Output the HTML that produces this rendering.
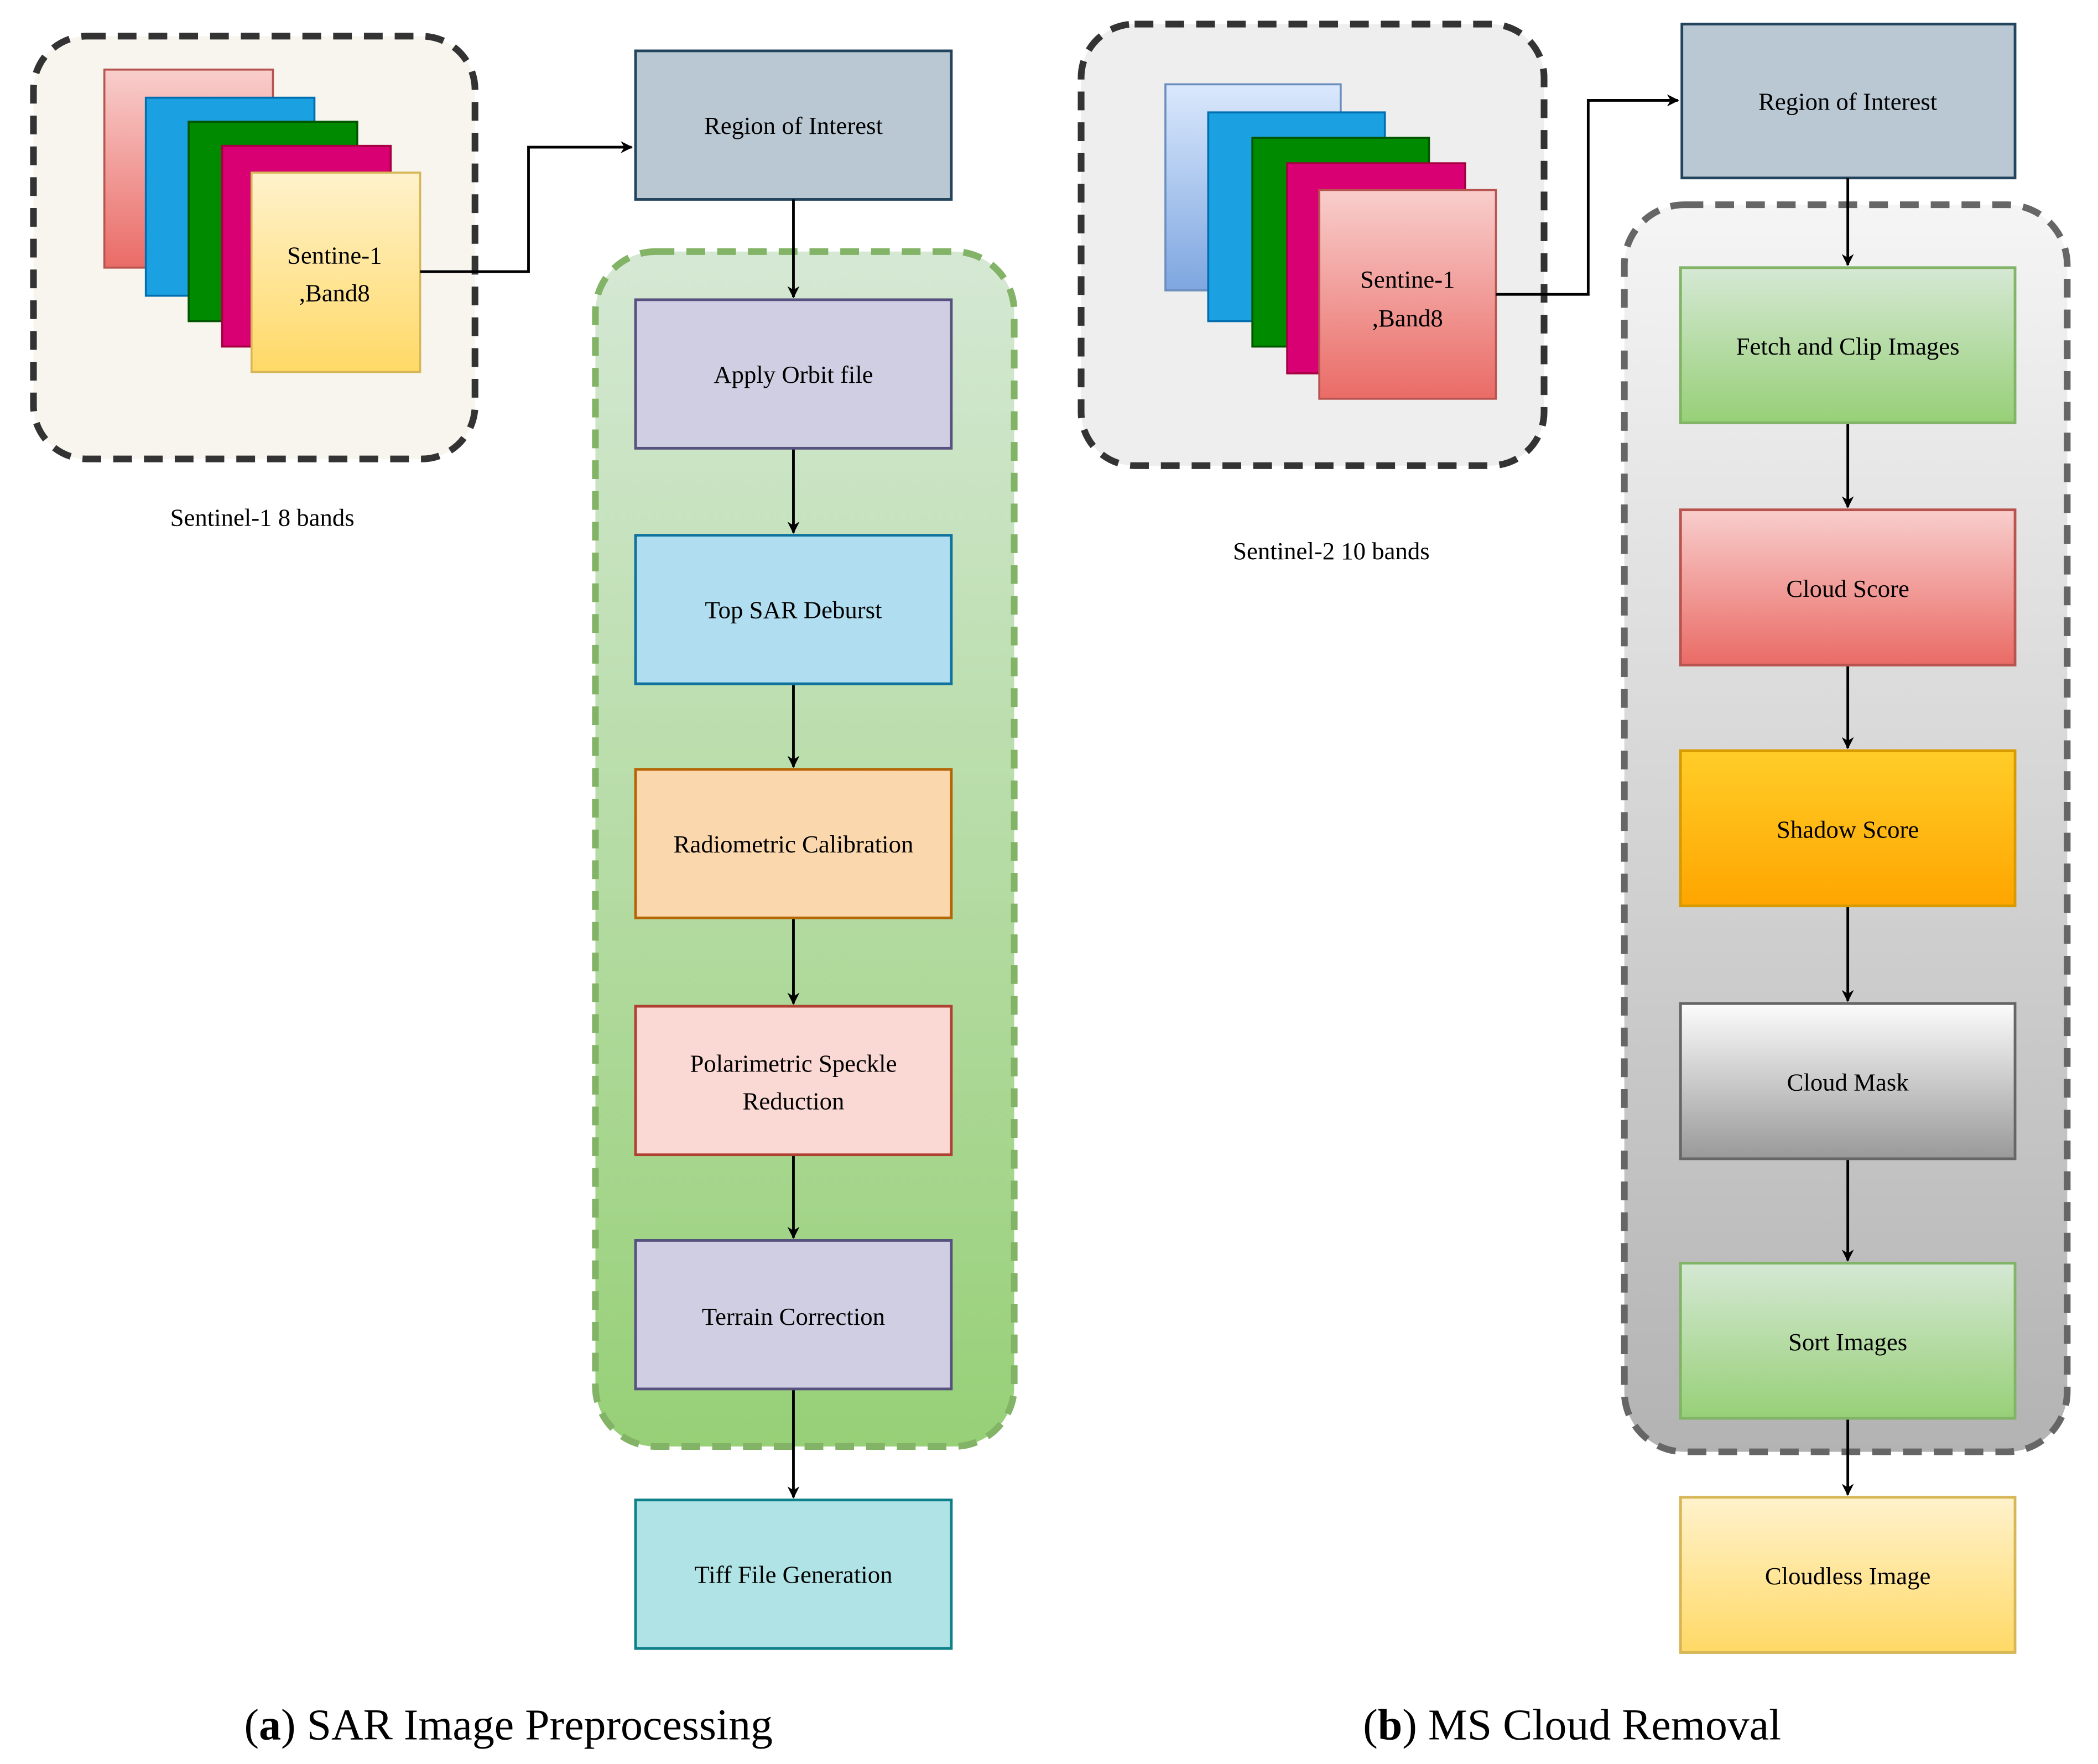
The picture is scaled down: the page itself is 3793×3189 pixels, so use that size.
<!DOCTYPE html>
<html><head><meta charset="utf-8">
<style>html,body{margin:0;padding:0;background:#fff}svg{display:block}</style>
</head><body>
<svg width="3793" height="3189" viewBox="0 0 1568 1318.3" xmlns="http://www.w3.org/2000/svg" font-family="'Liberation Serif', serif">
<defs>
<linearGradient id="gGreen" x1="0" y1="0" x2="0" y2="1"><stop offset="0" stop-color="#d5e8d4"/><stop offset="1" stop-color="#97d077"/></linearGradient>
<linearGradient id="gGray" x1="0" y1="0" x2="0" y2="1"><stop offset="0" stop-color="#f5f5f5"/><stop offset="1" stop-color="#b3b3b3"/></linearGradient>
<linearGradient id="gRed" x1="0" y1="0" x2="0" y2="1"><stop offset="0" stop-color="#f8cecc"/><stop offset="1" stop-color="#ea6b66"/></linearGradient>
<linearGradient id="gYel" x1="0" y1="0" x2="0" y2="1"><stop offset="0" stop-color="#fff2cc"/><stop offset="1" stop-color="#ffd966"/></linearGradient>
<linearGradient id="gOr" x1="0" y1="0" x2="0" y2="1"><stop offset="0" stop-color="#ffcd28"/><stop offset="1" stop-color="#ffa500"/></linearGradient>
<linearGradient id="gMask" x1="0" y1="0" x2="0" y2="1"><stop offset="0" stop-color="#fcfcfc"/><stop offset="1" stop-color="#999999"/></linearGradient>
<linearGradient id="gBlue" x1="0" y1="0" x2="0" y2="1"><stop offset="0" stop-color="#dae8fc"/><stop offset="1" stop-color="#7ea6e0"/></linearGradient>
<marker id="ar" viewBox="0 0 10 10" refX="9" refY="5" markerWidth="9" markerHeight="9" orient="auto" markerUnits="userSpaceOnUse"><path d="M0,0 L10,5 L0,10 L3,5 z" fill="#000"/></marker>
</defs>
<g font-size="18.5" text-anchor="middle" fill="#000">
<rect x="25" y="27" width="330" height="316" rx="40" fill="#f7f5ee" stroke="#333" stroke-width="5" stroke-dasharray="14,9"/>
<rect x="78" y="52" width="126" height="148" fill="url(#gRed)" stroke="#b85450" stroke-width="1.5"/>
<rect x="109" y="73" width="126" height="148" fill="#1ba1e2" stroke="#006eaf" stroke-width="1.5"/>
<rect x="141" y="91" width="126" height="149" fill="#008a00" stroke="#005700" stroke-width="1.5"/>
<rect x="166" y="109" width="126" height="150" fill="#d80073" stroke="#a50040" stroke-width="1.5"/>
<rect x="188" y="129" width="126" height="149" fill="url(#gYel)" stroke="#d6b656" stroke-width="1.5"/>
<text x="250" y="197">Sentine-1</text><text x="250" y="225">,Band8</text>
<text x="196" y="393">Sentinel-1 8 bands</text>
<polyline points="314,203 395,203 395,110 472,110" fill="none" stroke="#000" stroke-width="2" marker-end="url(#ar)"/>
<rect x="475" y="38" width="236" height="111" fill="#bac8d3" stroke="#23445d" stroke-width="2"/>
<text x="593" y="100">Region of Interest</text>
<rect x="445" y="188" width="313" height="893" rx="45" fill="url(#gGreen)" stroke="#82b366" stroke-width="5" stroke-dasharray="14,9"/>
<g stroke="#000" stroke-width="2" marker-end="url(#ar)">
<line x1="593" y1="149" x2="593" y2="222"/><line x1="593" y1="335" x2="593" y2="398"/>
<line x1="593" y1="511" x2="593" y2="573"/><line x1="593" y1="686" x2="593" y2="750"/>
<line x1="593" y1="863" x2="593" y2="925"/><line x1="593" y1="1038" x2="593" y2="1119"/>
</g>
<rect x="475" y="224" width="236" height="111" fill="#d0cee2" stroke="#56517e" stroke-width="2"/><text x="593" y="286">Apply Orbit file</text>
<rect x="475" y="400" width="236" height="111" fill="#b1ddf0" stroke="#10739e" stroke-width="2"/><text x="593" y="462">Top SAR Deburst</text>
<rect x="475" y="575" width="236" height="111" fill="#fad7ac" stroke="#b46504" stroke-width="2"/><text x="593" y="637">Radiometric Calibration</text>
<rect x="475" y="752" width="236" height="111" fill="#fad9d5" stroke="#ae4132" stroke-width="2"/><text x="593" y="801">Polarimetric Speckle</text><text x="593" y="829">Reduction</text>
<rect x="475" y="927" width="236" height="111" fill="#d0cee2" stroke="#56517e" stroke-width="2"/><text x="593" y="990">Terrain Correction</text>
<rect x="475" y="1121" width="236" height="111" fill="#b0e3e6" stroke="#0e8088" stroke-width="2"/><text x="593" y="1183">Tiff File Generation</text>
<text x="380" y="1300" font-size="33">(<tspan font-weight="bold">a</tspan>) SAR Image Preprocessing</text>
<rect x="808" y="18" width="346" height="330" rx="40" fill="#eeeeee" stroke="#333" stroke-width="5" stroke-dasharray="14,9"/>
<rect x="871" y="63" width="131" height="154" fill="url(#gBlue)" stroke="#6c8ebf" stroke-width="1.5"/>
<rect x="903" y="84" width="132" height="156" fill="#1ba1e2" stroke="#006eaf" stroke-width="1.5"/>
<rect x="936" y="103" width="132" height="156" fill="#008a00" stroke="#005700" stroke-width="1.5"/>
<rect x="962" y="122" width="133" height="157" fill="#d80073" stroke="#a50040" stroke-width="1.5"/>
<rect x="986" y="142" width="132" height="156" fill="url(#gRed)" stroke="#b85450" stroke-width="1.5"/>
<text x="1052" y="215">Sentine-1</text><text x="1052" y="244">,Band8</text>
<text x="995" y="418">Sentinel-2 10 bands</text>
<polyline points="1118,220 1187,220 1187,75 1254,75" fill="none" stroke="#000" stroke-width="2" marker-end="url(#ar)"/>
<rect x="1257" y="18" width="249" height="115" fill="#bac8d3" stroke="#23445d" stroke-width="2"/><text x="1381" y="82">Region of Interest</text>
<rect x="1214" y="153" width="331" height="932" rx="45" fill="url(#gGray)" stroke="#666" stroke-width="5" stroke-dasharray="14,9"/>
<g stroke="#000" stroke-width="2" marker-end="url(#ar)">
<line x1="1381" y1="133" x2="1381" y2="198"/><line x1="1381" y1="316" x2="1381" y2="379"/>
<line x1="1381" y1="497" x2="1381" y2="559"/><line x1="1381" y1="677" x2="1381" y2="748"/>
<line x1="1381" y1="866" x2="1381" y2="942"/><line x1="1381" y1="1060" x2="1381" y2="1117"/>
</g>
<rect x="1256" y="200" width="250" height="116" fill="url(#gGreen)" stroke="#82b366" stroke-width="2"/><text x="1381" y="265">Fetch and Clip Images</text>
<rect x="1256" y="381" width="250" height="116" fill="url(#gRed)" stroke="#b85450" stroke-width="2"/><text x="1381" y="446">Cloud Score</text>
<rect x="1256" y="561" width="250" height="116" fill="url(#gOr)" stroke="#d79b00" stroke-width="2"/><text x="1381" y="626">Shadow Score</text>
<rect x="1256" y="750" width="250" height="116" fill="url(#gMask)" stroke="#666" stroke-width="2"/><text x="1381" y="815">Cloud Mask</text>
<rect x="1256" y="944" width="250" height="116" fill="url(#gGreen)" stroke="#82b366" stroke-width="2"/><text x="1381" y="1009">Sort Images</text>
<rect x="1256" y="1119" width="250" height="116" fill="url(#gYel)" stroke="#d6b656" stroke-width="2"/><text x="1381" y="1184">Cloudless Image</text>
<text x="1175" y="1300" font-size="33">(<tspan font-weight="bold">b</tspan>) MS Cloud Removal</text>
</g>
</svg>
</body></html>
